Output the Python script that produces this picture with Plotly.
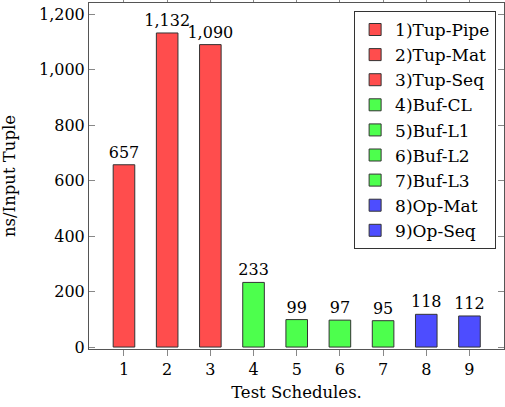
import plotly.graph_objects as go

schedules = [1, 2, 3, 4, 5, 6, 7, 8, 9]
values = [657, 1132, 1090, 233, 99, 97, 95, 118, 112]
names = ["1)Tup-Pipe", "2)Tup-Mat", "3)Tup-Seq", "4)Buf-CL", "5)Buf-L1",
         "6)Buf-L2", "7)Buf-L3", "8)Op-Mat", "9)Op-Seq"]
colors = ["#ff4d4d"] * 3 + ["#4dff4d"] * 4 + ["#4d4dff"] * 2
y_ticks = [0, 200, 400, 600, 800, 1000, 1200]

FONT = "DejaVu Serif"
fig = go.Figure()
for x, v, n, c in zip(schedules, values, names, colors):
    fig.add_trace(go.Bar(
        x=[x], y=[v], name=n, width=0.5,
        marker=dict(color=c, line=dict(color="#333333", width=1)),
        text=[v], texttemplate="%{y:,}", textposition="outside",
        constraintext="none",
        textfont=dict(family=FONT, size=16, color="black"),
        cliponaxis=False,
    ))

fig.update_layout(
    width=505, height=407,
    margin=dict(l=89, r=1, t=3, b=58),
    barmode="overlay",
    plot_bgcolor="white", paper_bgcolor="white",
    font=dict(family=FONT, size=16, color="black"),
    showlegend=True,
    legend=dict(
        x=0.981, y=0.977, xanchor="right", yanchor="top",
        bgcolor="white", bordercolor="#333333", borderwidth=1,
        font=dict(family=FONT, size=17, color="black"),
        itemwidth=30,
    ),
    xaxis=dict(
        range=[0.19, 9.8], tickmode="array", tickvals=schedules,
        ticks="outside", ticklen=6, tickcolor="#888888",
        showline=True, linecolor="#555555", linewidth=1, mirror="ticks",
        showgrid=False, zeroline=False, automargin=False,
        title=dict(text="Test Schedules.", standoff=8,
                   font=dict(family=FONT, size=16.5)),
    ),
    yaxis=dict(
        range=[-7, 1240], tickmode="array", tickvals=y_ticks,
        tickformat=",", ticks="inside", ticklen=6, tickcolor="#888888",
        showline=True, linecolor="#555555", linewidth=1, mirror="ticks",
        showgrid=False, zeroline=False, automargin=False,
        title=dict(text="ns/Input Tuple", standoff=19,
                   font=dict(family=FONT, size=16.5)),
    ),
)

fig.write_html("out.html", config={"displayModeBar": False},
               post_script="document.body.style.margin='0px';")
